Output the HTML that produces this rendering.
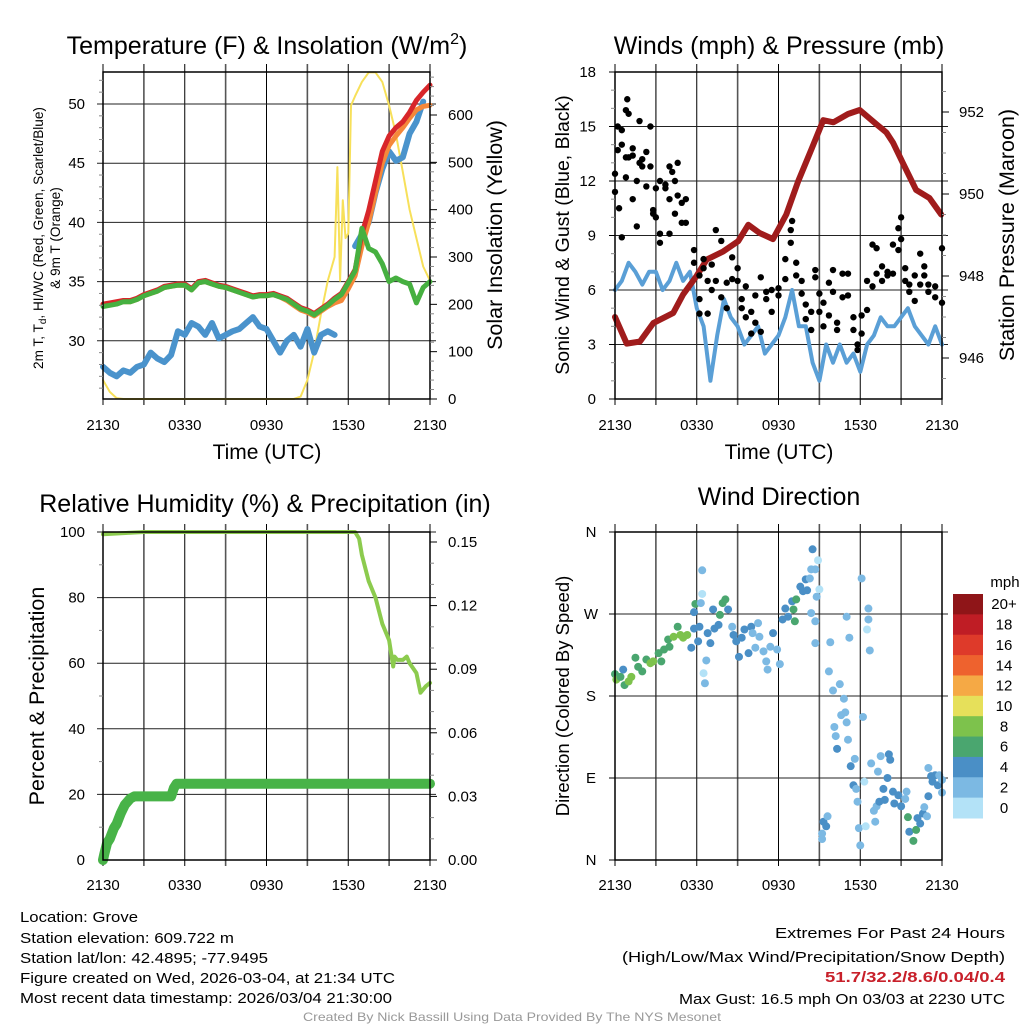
<!DOCTYPE html>
<html><head><meta charset="utf-8">
<style>
html,body{margin:0;padding:0;background:#fff;}
svg{display:block;font-family:"Liberation Sans",Arial,sans-serif;}
</style></head>
<body>
<svg id="chart" width="1024" height="1024" viewBox="0 0 1024 1024" xmlns="http://www.w3.org/2000/svg">
<rect width="1024" height="1024" fill="#fff"/>
<g id="layer"></g>
<g font-size="15" fill="#000">
<text x="20" y="922" textLength="118" lengthAdjust="spacingAndGlyphs">Location: Grove</text>
<text x="20" y="943" textLength="214" lengthAdjust="spacingAndGlyphs">Station elevation: 609.722 m</text>
<text x="20" y="963" textLength="248" lengthAdjust="spacingAndGlyphs">Station lat/lon: 42.4895; -77.9495</text>
<text x="20" y="983" textLength="375" lengthAdjust="spacingAndGlyphs">Figure created on Wed, 2026-03-04, at 21:34 UTC</text>
<text x="20" y="1003" textLength="372" lengthAdjust="spacingAndGlyphs">Most recent data timestamp: 2026/03/04 21:30:00</text>
<text x="1005" y="938" text-anchor="end" textLength="230" lengthAdjust="spacingAndGlyphs">Extremes For Past 24 Hours</text>
<text x="1005" y="962" text-anchor="end" textLength="383" lengthAdjust="spacingAndGlyphs">(High/Low/Max Wind/Precipitation/Snow Depth)</text>
<text x="1005" y="982" text-anchor="end" fill="#c8202a" font-weight="bold" textLength="180" lengthAdjust="spacingAndGlyphs">51.7/32.2/8.6/0.04/0.4</text>
<text x="1005" y="1004" text-anchor="end" textLength="326" lengthAdjust="spacingAndGlyphs">Max Gust: 16.5 mph On 03/03 at 2230 UTC</text>
<text x="512" y="1021" text-anchor="middle" font-size="12" fill="#999" textLength="418" lengthAdjust="spacingAndGlyphs">Created By Nick Bassill Using Data Provided By The NYS Mesonet</text>
</g>
</svg>
<script>
// ---------- data ----------
const timeTicks = ["2130","0330","0930","1530","2130"];
const halfHours = [0,0.5,1,1.5,2,2.5,3,3.5,4,4.5,5,5.5,6,6.5,7,7.5,8,8.5,9,9.5,10,10.5,11,11.5,12,12.5,13,13.5,14,14.5,15,15.5,16,16.5,17,17.5,18,18.5,19,19.5,20,20.5,21,21.5,22,22.5,23,23.5,24];
const tempRed = [33.1,33.2,33.3,33.4,33.4,33.6,33.9,34.1,34.3,34.6,34.7,34.8,34.8,34.4,35.0,35.1,34.9,34.7,34.6,34.4,34.2,34.0,33.8,33.9,33.9,34.0,33.8,33.6,33.2,32.8,32.6,32.3,32.7,33.1,33.6,34.0,35.0,36.0,39.0,41.0,43.5,46.0,47.3,48.0,48.5,49.3,50.3,51.0,51.6];
const tempOrange = [33.0,33.1,33.2,33.3,33.3,33.5,33.8,34.0,34.2,34.5,34.6,34.7,34.7,34.3,34.9,35.0,34.8,34.6,34.5,34.3,34.1,33.9,33.7,33.8,33.8,33.9,33.7,33.4,33.0,32.6,32.4,32.1,32.5,32.9,33.2,33.4,34.4,35.5,38.0,40.0,42.5,45.0,46.5,47.3,48.0,48.8,49.5,49.8,49.9];
const tempGreen = [32.9,33.0,33.1,33.3,33.3,33.5,33.8,34.0,34.2,34.5,34.6,34.7,34.7,34.3,34.9,35.0,34.8,34.6,34.5,34.3,34.1,33.9,33.7,33.8,33.8,33.9,33.7,33.5,33.1,32.7,32.5,32.2,32.6,33.0,33.5,33.9,34.9,35.9,39.5,37.8,37.5,36.5,35.0,35.3,35.0,34.8,33.2,34.5,35.0];
const dewBlue = [27.8,27.3,27.0,27.5,27.3,27.8,28.0,29.0,28.5,28.2,28.8,30.8,30.5,31.5,31.2,30.5,31.5,30.2,30.5,30.8,31.0,31.5,32.0,31.2,31.0,30.0,29.0,30.0,30.5,29.5,31.0,29.0,30.5,30.8,30.5,null,null,38.0,39.0,40.0,42.5,44.5,46.0,45.2,45.5,47.5,48.5,50.2,null];
const solarHours = [0,0.5,1,1.5,14,14.5,15,15.5,16,16.5,17,17.2,17.4,17.6,17.8,18,18.2,18.5,19,19.5,20,20.5,21,21.5,22,22.5,23,23.5,24];
const solarValues = [40,15,2,0,0,5,40,100,180,250,300,490,250,420,340,350,620,640,670,690,690,670,620,560,480,400,340,280,250];

const windBlue = [6.0,6.5,7.5,7.0,6.3,7.0,7.0,6.0,6.5,7.5,6.5,7.0,5.0,4.0,1.0,3.5,5.5,4.5,4.0,3.0,3.5,4.0,2.5,3.0,3.5,4.5,6.0,4.0,4.0,2.0,1.0,3.0,2.0,3.0,2.0,2.5,1.5,3.0,3.5,4.5,4.0,4.0,4.5,5.0,4.0,3.5,3.0,4.0,3.0];
const pressureHours = [0,0.86,1.83,2.81,4.28,5.0,5.99,6.73,7.95,9.05,9.78,10.61,11.6,12.57,13.43,14.43,15.29,16.03,17.1,17.96,19.19,19.92,20.41,21.14,22.1,23.08,23.94];
const pressureValues = [947.0,946.35,946.4,946.85,947.1,947.55,948.0,948.4,948.6,948.85,949.25,949.05,948.9,949.5,950.3,951.1,951.8,951.75,951.95,952.05,951.7,951.5,951.25,950.75,950.1,949.9,949.5];
const gustHours = [0,0,0.2,0.2,0.3,0.5,0.5,0.5,0.8,0.8,0.8,0.9,1.0,1.0,1.3,1.3,1.3,1.6,1.6,1.8,1.8,2.0,2.0,2.3,2.3,2.6,2.6,2.8,2.8,3.0,3.0,3.3,3.3,3.3,3.7,3.7,4.0,4.0,4.0,4.2,4.4,4.4,4.6,4.6,4.9,4.9,5.2,5.2,5.8,5.8,6.2,6.2,6.2,6.5,6.5,6.8,6.8,7.1,7.1,7.4,7.4,7.8,7.8,8.2,8.2,8.6,8.6,9.0,9.0,9.3,9.3,9.6,9.6,10.0,10.0,10.3,10.3,10.7,10.7,11.1,11.1,11.5,11.5,12.0,12.0,12.5,12.5,12.9,12.9,13.0,13.3,13.3,13.7,13.7,14.0,14.0,14.4,14.4,14.7,14.7,15.0,15.0,15.3,15.3,15.7,15.7,16.0,16.0,16.3,16.3,16.7,16.7,17.1,17.1,17.5,17.5,17.8,17.8,18.1,18.1,18.5,18.5,18.9,18.9,19.2,19.2,19.6,19.6,20.0,20.0,20.4,20.4,20.8,20.8,21.0,21.0,21.3,21.3,21.6,21.6,22.0,22.0,22.4,22.4,22.7,22.7,23.0,23.0,23.5,23.5,24.0,24.0];
const gustValues = [12.4,11.4,15.0,13.7,10.5,14.8,14.0,8.9,15.9,13.3,12.2,16.5,15.7,13.3,13.8,13.4,11.0,9.5,12.0,13.0,15.3,13.2,12.8,13.6,11.7,15.0,12.8,10.4,10.2,11.6,10.0,9.1,8.6,12.0,11.6,11.8,12.8,11.0,9.1,12.5,10.2,12.0,13.0,11.2,10.8,9.7,9.7,11.0,8.2,7.5,6.8,4.7,5.5,7.7,7.2,4.7,6.5,7.4,6.0,9.3,6.5,8.7,5.6,5.0,6.4,7.8,6.6,6.5,7.2,5.5,5.0,6.2,4.5,3.6,4.8,4.2,5.7,6.7,3.7,5.5,5.9,4.8,6.0,6.1,5.7,6.6,7.7,9.3,8.6,9.8,7.5,6.8,6.5,5.8,4.4,5.2,4.8,3.8,7.1,6.7,5.8,4.8,5.3,4.0,6.4,4.6,7.1,5.9,4.2,3.8,6.9,5.6,6.9,5.7,3.8,4.5,3.0,2.7,4.6,3.6,6.5,4.9,6.2,8.5,6.9,8.3,7.3,6.5,7.0,6.8,8.5,6.9,9.4,8.2,10.0,8.8,6.5,7.2,6.3,5.9,6.8,5.4,8.0,6.3,6.8,7.3,6.3,5.9,6.2,5.6,8.3,5.3];

const rhHours = [0,2,3,18.5,18.8,19,19.5,20,20.5,21,21.3,21.4,21.6,22,22.3,22.5,23,23.3,23.7,24];
const rhValues = [99.3,99.8,100,100,98,93,85,80,72,67,59,62,61,61,62,60,57,51,53,54];
const precipHours = [0,0.1,0.3,0.5,0.8,1.0,1.3,1.6,2.0,2.3,5.0,5.2,5.4,24];
const precipValues = [0.0,0.003,0.008,0.010,0.015,0.017,0.022,0.026,0.029,0.030,0.030,0.034,0.036,0.036];

const dirHours = [0,0.1,0.4,0.6,0.7,1.0,1.2,1.5,1.7,2.0,2.3,2.6,2.8,3.2,3.4,3.6,3.9,4.0,4.3,4.6,4.8,5.0,5.3,5.6,5.8,5.9,5.8,6.2,6.1,6.4,6.4,6.3,6.5,6.6,6.7,6.8,7.0,7.2,7.3,7.6,7.7,7.9,8.1,8.3,8.6,8.7,8.9,9.1,9.3,9.5,9.8,10.0,10.1,10.3,10.5,10.6,10.9,11.1,11.2,11.4,11.6,11.9,12.1,12.3,12.5,12.7,13.0,13.1,13.2,13.3,13.6,13.8,14.0,14.1,14.3,14.4,14.5,14.7,14.8,14.9,15.0,14.4,14.7,14.7,15.2,15.3,15.5,15.6,15.2,15.7,15.8,16.0,16.1,16.2,16.3,16.5,16.6,16.8,16.9,17.0,17.1,17.2,17.0,17.3,17.6,17.5,17.7,17.8,17.9,18.0,18.1,18.2,18.3,18.4,18.5,18.6,18.6,18.7,18.8,19.0,19.1,19.2,19.3,19.4,19.5,19.7,19.8,20.0,20.1,20.2,20.4,20.5,20.8,21.0,21.3,21.4,21.5,21.6,21.9,22.1,22.2,22.4,22.6,22.7,22.9,23.0,23.0,23.2,23.3,23.5,23.7,23.8,24.0,24.0];
const dirValues = [204,198,201,209,192,196,201,222,212,207,220,216,218,227,218,231,242,234,245,256,247,244,247,233,254,281,272,256,240,318,292,282,205,194,219,249,238,275,254,258,269,282,286,275,256,247,240,223,244,253,227,256,249,233,260,245,229,218,209,234,249,231,215,264,276,267,284,275,262,286,300,295,308,296,309,319,341,319,289,329,297,271,262,238,29,42,37,48,23,207,239,186,146,136,122,193,159,177,162,151,132,244,267,103,111,82,78,64,35,16,309,157,86,37,253,276,264,230,106,54,42,59,97,64,114,78,66,90,116,110,75,62,71,59,67,75,47,31,21,33,46,40,51,58,48,70,101,92,86,93,82,93,74,88];
const dirSpeeds = [7,8,6,4,6,8,8,6,6,6,6,8,8,6,6,6,6,6,8,6,8,8,8,4,4,6,4,4,4,2,0,2,0,2,2,4,4,4,4,4,6,6,6,4,2,4,4,4,4,4,4,4,2,2,2,2,2,2,2,2,4,2,2,4,4,4,4,6,6,6,4,4,4,4,2,2,4,2,2,0,0,2,2,2,2,4,4,2,2,2,2,2,2,2,4,2,2,2,2,2,2,2,2,4,2,4,2,2,2,2,2,2,0,0,0,2,2,2,2,2,2,2,2,4,2,4,4,4,4,4,4,4,4,4,2,2,6,4,6,6,4,4,4,2,2,4,2,4,4,4,4,2,2,2];
const speedLabels = ["0","2","4","6","8","10","12","14","16","18","20+"];
const speedColors = ["#b3e2f7","#7cb9e3","#4a8fc6","#4aa66f","#7dc24c","#e6e05a","#f5a945","#ee622e","#de3a2a","#bf1d25","#8f1518"];

// ---------- helpers ----------
const NS="http://www.w3.org/2000/svg";
const layer=document.getElementById('layer');
const TF=15;
function mk(tag,attrs,parent){const e=document.createElementNS(NS,tag);for(const k in attrs)e.setAttribute(k,attrs[k]);(parent||layer).appendChild(e);return e;}
function txt(s,attrs,parent){const e=mk('text',attrs,parent);e.textContent=s;return e;}

function panel(name,L,R,T,B){
  const g=mk('g',{});
  
  
  return {g,L,R,T,B,x:h=>L+h/24*(R-L)};
}
function grid(p,yVals,yFn){
  const gg=mk('g',{stroke:'#000','stroke-width':1},p.g);
  
  
  for(let i=0;i<=8;i++){const x=p.x(i*3);mk('line',{x1:x,x2:x,y1:p.T-8,y2:p.B+6,stroke:i%2?'#555':'#000','stroke-width':i%2?1.6:1},gg);}
  yVals.forEach(v=>{const y=yFn(v);mk('line',{x1:p.L-6,x2:p.R+6,y1:y,y2:y,stroke:'#222'},gg);});
}
function frame(p){
  const f=mk('rect',{x:p.L,y:p.T,width:p.R-p.L,height:p.B-p.T,fill:'none',stroke:'#000','stroke-width':1.5},p.g);
  
  
}
function xTicks(p,base){
  const g=mk('g',{'font-size':TF,'text-anchor':'middle'},p.g);
  
  
  timeTicks.forEach((t,i)=>{txt(t,{x:p.x(i*6),y:base},g);});
}
function leftTicks(p,vals,yFn,labels,xr,minor){
  const g=mk('g',{'font-size':TF,'text-anchor':'end'},p.g);
  
  
  vals.forEach((v,i)=>{txt(labels[i],{x:xr,y:yFn(v)+5},g);});
  (minor||[]).forEach(v=>{const y=yFn(v);mk('line',{x1:p.L-4,x2:p.L,y1:y,y2:y,stroke:'#888'},g);});
}
function rightTicks(p,vals,yFn,labels,xl,minor){
  const g=mk('g',{'font-size':TF,'text-anchor':'start'},p.g);
  
  
  vals.forEach((v,i)=>{const y=yFn(v);mk('line',{x1:p.R,x2:p.R+7,y1:y,y2:y,stroke:'#000'},g);txt(labels[i],{x:xl,y:y+5},g);});
  (minor||[]).forEach(v=>{const y=yFn(v);mk('line',{x1:p.R,x2:p.R+4,y1:y,y2:y,stroke:'#888'},g);});
}
function pathFrom(hours,vals,xf,yf){
  let d='',pen=false;
  for(let i=0;i<hours.length;i++){
    if(vals[i]===null){pen=false;continue;}
    d+=(pen?'L':'M')+xf(hours[i]).toFixed(1)+','+yf(vals[i]).toFixed(1);pen=true;
  }
  return d;
}
function line(p,name,hours,vals,yf,color,w){
  const e=mk('path',{d:pathFrom(hours,vals,p.x,yf),fill:'none',stroke:color,'stroke-width':w,'stroke-linejoin':'round','stroke-linecap':'round'},p.g);
  
  
}
function title(s,x,y,name){const t=txt(s,{x:x,y:y,'font-size':25,'text-anchor':'middle'});return t;}
function vlabel(s,x,y,size,name,rot){const t=txt(s,{x:0,y:0,'font-size':size,'text-anchor':'middle',transform:`translate(${x},${y}) rotate(${rot||-90})`});return t;}

// ---------- Panel 1: Temperature ----------
{
const p=panel('temperature-panel',103,430,72,399);
const yT=v=>400-(v-25)/5*59.2;
const yS=v=>399-v*(284/600);
grid(p,[30,35,40,45,50],yT);
line(p,'solar-line',solarHours,solarValues,yS,'#f7e05a',2);
line(p,'dewpoint-line',halfHours,dewBlue,yT,'#4a93cc',6);
line(p,'temp-9m-line',halfHours,tempOrange,yT,'#f5883a',5);
line(p,'temp-2m-line',halfHours,tempRed,yT,'#d8262a',5);
line(p,'heat-index-line',halfHours,tempGreen,yT,'#46b040',5);
frame(p);
xTicks(p,430);
const minorL=[];for(let v=26;v<=52;v++)if(v%5)minorL.push(v);
leftTicks(p,[30,35,40,45,50],yT,["30","35","40","45","50"],85,minorL);
const minorR=[];for(let v=20;v<=680;v+=20)if(v%100)minorR.push(v);
rightTicks(p,[0,100,200,300,400,500,600],yS,["0","100","200","300","400","500","600"],448,minorR);
}
{const t=txt('',{x:267,y:54,'font-size':25,'text-anchor':'middle'});
t.innerHTML='Temperature (F) &amp; Insolation (W/m<tspan font-size="16" dy="-10">2</tspan><tspan dy="10">)</tspan>';}
{const t=txt('',{x:0,y:0,'font-size':13.6,'text-anchor':'middle',transform:'translate(43,238) rotate(-90)'});
t.innerHTML='2m T, T<tspan font-size="10" dy="3">d</tspan><tspan dy="-3">, HI/WC (Red, Green, Scarlet/Blue)</tspan>';
const t2=txt('& 9m T (Orange)',{x:0,y:0,'font-size':13.6,'text-anchor':'middle',transform:'translate(60,238) rotate(-90)'});}
vlabel('Solar Insolation (Yellow)',502,235,21.5,'solar-y-title');
{const t=txt('Time (UTC)',{x:267,y:459,'font-size':21,'text-anchor':'middle'});}

// ---------- Panel 2: Winds ----------
{
const p=panel('winds-panel',615,942,72,399);
const yW=v=>399-v/18*327;
const yP=v=>399-(v-945)*41;
grid(p,[3,6,9,12,15],yW);
line(p,'wind-speed-line',halfHours,windBlue,yW,'#5a9fd6',4);
line(p,'pressure-line',pressureHours,pressureValues,yP,'#a01c1c',6);
const dg=mk('g',{fill:'#000'},p.g);


gustHours.forEach((h,i)=>{const c=mk('circle',{cx:p.x(h),cy:yW(gustValues[i]),r:3.2},dg);

});
frame(p);
xTicks(p,430);
const minorL=[1,2,4,5,7,8,10,11,13,14,16,17];
leftTicks(p,[0,3,6,9,12,15,18],yW,["0","3","6","9","12","15","18"],596,minorL);
const g=mk('g',{},p.g);[0,3,6,9,12,15,18].forEach(v=>mk('line',{x1:p.L-6,x2:p.L,y1:yW(v),y2:yW(v),stroke:'#000'},g));
const minorR=[];for(let v=945.5;v<953;v+=0.5)if(v%2)minorR.push(v);
rightTicks(p,[946,948,950,952],yP,["946","948","950","952"],959,minorR);
}
title('Winds (mph) & Pressure (mb)',779,54,'winds-title');
vlabel('Sonic Wind & Gust (Blue, Black)',569,235,19.5,'wind-y-title');
vlabel('Station Pressure (Maroon)',1014,235,21.5,'pressure-y-title');
{const t=txt('Time (UTC)',{x:779,y:459,'font-size':21,'text-anchor':'middle'});}

// ---------- Panel 3: RH & Precip ----------
{
const p=panel('humidity-panel',103,430,532,860);
const yR=v=>860-v/100*328;
const yQ=v=>860-v/0.15*318;
grid(p,[20,40,60,80,100],yR);
line(p,'precip-line',precipHours,precipValues,yQ,'#48b348',10);
line(p,'humidity-line',rhHours,rhValues,yR,'#8ccb4e',4);
frame(p);
xTicks(p,890);
leftTicks(p,[0,20,40,60,80,100],yR,["0","20","40","60","80","100"],85,[10,30,50,70,90]);
const minorR=[];for(let v=0.01;v<0.155;v+=0.01){const r=Math.round(v*100);if(r%3)minorR.push(r/100);}
rightTicks(p,[0,0.03,0.06,0.09,0.12,0.15],yQ,["0.00","0.03","0.06","0.09","0.12","0.15"],448,minorR);
}
title('Relative Humidity (%) & Precipitation (in)',265,512,'humidity-title');
vlabel('Percent & Precipitation',44,696,21.5,'humidity-y-title');

// ---------- Panel 4: Wind direction ----------
{
const p=panel('direction-panel',615,942,532,860);
const yD=v=>860-v/360*328;
grid(p,[90,180,270,360],yD);
const dg=mk('g',{},p.g);


dirHours.forEach((h,i)=>{const idx=Math.min(10,Math.floor(dirSpeeds[i]/2));
const c=mk('circle',{cx:p.x(h),cy:yD(dirValues[i]),r:4,fill:speedColors[idx]},dg);

});
frame(p);
xTicks(p,890);
const g=mk('g',{'font-size':TF,'text-anchor':'middle'},p.g);


["N","E","S","W","N"].forEach((s,i)=>{txt(s,{x:591,y:yD(i*90)+5},g);mk('line',{x1:p.L-6,x2:p.L,y1:yD(i*90),y2:yD(i*90),stroke:'#000'},g);});
// colorbar
const cb=mk('g',{},p.g);


const bh=(818-594)/speedLabels.length;
speedLabels.forEach((lab,i)=>{const j=speedLabels.length-1-i;
const y=594+i*bh;
const r=mk('rect',{x:953,y:y,width:30,height:bh+0.5,fill:speedColors[j]},cb);


txt(speedLabels[j],{x:1004,y:y+bh/2+5,'font-size':TF,'text-anchor':'middle'},cb);});
txt('mph',{x:1005,y:587,'font-size':TF,'text-anchor':'middle'},cb);
}
title('Wind Direction',779,505,'direction-title');
vlabel('Direction (Colored By Speed)',569,696,18.5,'direction-y-title');
</script>
</body></html>
